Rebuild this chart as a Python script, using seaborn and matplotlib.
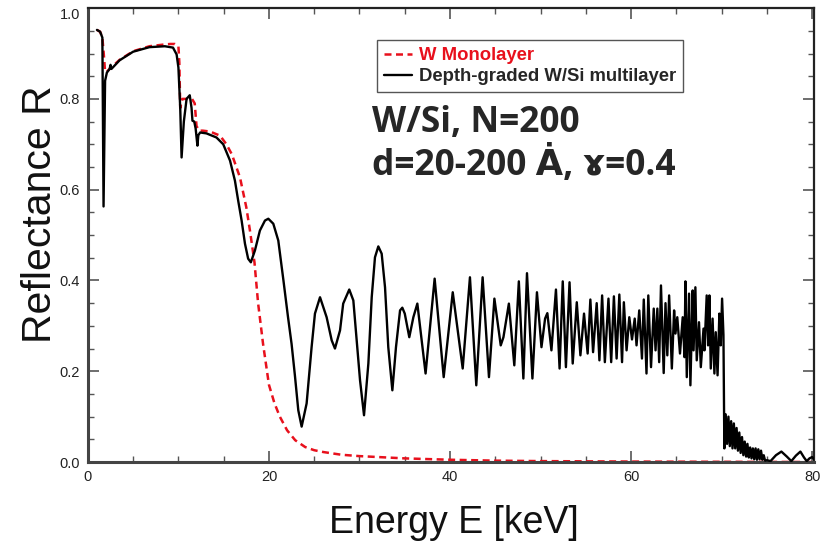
import matplotlib
matplotlib.use("Agg")
import pandas as pd
import matplotlib.pyplot as plt
import seaborn as sns
from matplotlib.ticker import MultipleLocator

# ===== ESTILO =====
sns.set_theme(style="ticks")
plt.rcParams['font.family'] = ['Liberation Sans', 'DejaVu Sans']

# ===== DADOS =====
# W monolayer (linha vermelha tracejada)
mono_E = [1.0, 1.35, 1.6, 1.75, 1.9, 2.1, 2.5, 3.5, 5.0, 6.8, 8.5, 9.1, 9.6, 10.0,
          10.1, 10.2, 10.45, 11.0, 11.5, 11.8, 12.0, 12.3, 12.7, 13.5, 14.6, 15.3,
          15.9, 16.8, 17.5, 17.9, 18.4, 18.8, 19.35, 20.0, 20.6, 21.2, 22.0, 22.9,
          24.0, 25.0, 26.0, 28.0, 30.0, 32.0, 35.0, 40.0, 45.0, 50.0, 60.0, 70.0, 80.0]
mono_R = [0.952, 0.948, 0.935, 0.90, 0.86, 0.86, 0.868, 0.886, 0.905, 0.916, 0.92,
          0.921, 0.921, 0.916, 0.88, 0.78, 0.80, 0.80, 0.80, 0.79, 0.74, 0.73, 0.73,
          0.728, 0.719, 0.70, 0.678, 0.627, 0.561, 0.51, 0.44, 0.35, 0.26, 0.17, 0.13,
          0.10, 0.07, 0.048, 0.033, 0.026, 0.022, 0.016, 0.013, 0.011, 0.008, 0.005,
          0.003, 0.002, 0.001, 0.0005, 0.0]

# Depth-graded W/Si multilayer (linha preta)
multi_E = [1.0, 1.35, 1.6, 1.73, 1.9, 2.1, 2.4, 2.5, 2.6, 3.5, 5.0, 6.8, 8.5, 9.4,
           9.8, 10.0, 10.2, 10.35, 10.6, 10.9, 11.25, 11.45, 11.55, 11.75, 11.9, 12.1,
           12.2, 12.4, 13.1, 14.2, 14.95, 15.7, 16.24, 16.6, 16.98, 17.35, 17.7, 18.0,
           18.45, 19.0, 19.56, 19.93, 20.48, 21.03, 21.6, 22.1, 22.5, 22.87, 23.24,
           23.61, 24.16, 24.71, 25.08, 25.64, 26.37, 26.93, 27.29, 27.85, 28.2, 28.87,
           29.32, 29.69, 30.06, 30.5, 30.98, 31.35, 31.71, 32.08, 32.45, 32.82, 33.18,
           33.63, 34.03, 34.48, 34.73, 35.0, 35.5, 35.95, 36.39,
           37.3, 38.3, 39.3, 40.3, 41.4, 42.2, 42.9, 43.6, 44.3, 44.9, 45.6, 45.9, 46.5,
           47.1, 47.6, 48.1, 48.5, 49.1, 49.6, 50.1, 50.5, 50.75, 51.2, 51.7, 52.1,
           52.45, 52.8, 53.2, 53.55, 54.0, 54.4, 54.8, 55.2, 55.5, 55.8, 56.2, 56.5,
           56.8, 57.1, 57.5, 57.8, 58.1, 58.4, 58.7, 59.0, 59.2, 59.5, 59.8, 60.1, 60.4,
           60.6, 60.9, 61.2, 61.4, 61.7, 61.9, 62.2, 62.5, 62.7, 62.9, 63.1, 63.3, 63.6,
           63.8, 64.0, 64.2, 64.5, 64.75, 64.9, 65.1, 65.4, 65.7, 65.9, 66.0, 66.15,
           66.4, 66.55, 66.8, 66.9, 67.1, 67.25, 67.5, 67.7, 68.0, 68.1, 68.35, 68.5,
           68.65, 68.8, 69.0, 69.2, 69.35, 69.55, 69.75, 69.9, 70.05, 70.2,
           70.3, 70.45, 70.6, 70.75, 70.9, 71.05, 71.2, 71.35, 71.5, 71.65, 71.8, 71.95,
           72.1, 72.25, 72.4, 72.55, 72.7, 72.85, 73.0, 73.15, 73.3, 73.45, 73.6, 73.75,
           73.9, 74.05, 74.2, 74.35, 74.5, 74.65, 74.8, 75.0, 75.4, 76.0, 76.6, 77.2,
           77.7, 78.2, 78.7, 79.1, 79.4, 79.7, 80.0, 80.2]
multi_R = [0.952, 0.948, 0.935, 0.563, 0.84, 0.858, 0.866, 0.875, 0.866, 0.885, 0.904,
           0.914, 0.916, 0.913, 0.898, 0.869, 0.78, 0.671, 0.75, 0.80, 0.808, 0.78,
           0.752, 0.75, 0.735, 0.697, 0.72, 0.726, 0.724, 0.715, 0.70, 0.664, 0.62,
           0.576, 0.532, 0.481, 0.448, 0.44, 0.466, 0.51, 0.532, 0.536, 0.525, 0.488,
           0.40, 0.32, 0.26, 0.19, 0.114, 0.078, 0.129, 0.253, 0.327, 0.363, 0.319,
           0.268, 0.25, 0.29, 0.349, 0.38, 0.356, 0.268, 0.18, 0.103, 0.217, 0.363,
           0.451, 0.475, 0.459, 0.385, 0.253, 0.158, 0.253, 0.334, 0.34, 0.327, 0.275,
           0.319, 0.349,
           0.195, 0.404, 0.187, 0.374, 0.206, 0.407, 0.169, 0.407, 0.187, 0.36, 0.257,
           0.275, 0.349, 0.213, 0.398, 0.184, 0.416, 0.184, 0.374, 0.253, 0.316, 0.328,
           0.246, 0.38, 0.206, 0.398, 0.209, 0.396, 0.217, 0.352, 0.235, 0.327, 0.239,
           0.358, 0.242, 0.35, 0.224, 0.367, 0.22, 0.36, 0.22, 0.365, 0.228, 0.369,
           0.22, 0.352, 0.246, 0.319, 0.27, 0.316, 0.257, 0.334, 0.228, 0.358, 0.195,
           0.367, 0.209, 0.338, 0.246, 0.338, 0.22, 0.389, 0.196, 0.35, 0.235, 0.367,
           0.206, 0.334, 0.283, 0.319, 0.239, 0.319, 0.231, 0.398, 0.187, 0.371, 0.169,
           0.378, 0.246, 0.385, 0.224, 0.308, 0.209, 0.294, 0.246, 0.367, 0.257, 0.367,
           0.206, 0.316, 0.195, 0.286, 0.191, 0.327, 0.257, 0.36, 0.28,
           0.03, 0.105, 0.04, 0.10, 0.035, 0.09, 0.03, 0.085, 0.03, 0.075, 0.025, 0.065,
           0.02, 0.055, 0.015, 0.045, 0.012, 0.04, 0.01, 0.032, 0.008, 0.03, 0.006,
           0.03, 0.005, 0.028, 0.006, 0.025, 0.005, 0.015, 0.003, 0.004, 0.002, 0.015,
           0.023, 0.012, 0.002, 0.014, 0.023, 0.01, 0.002, 0.008, 0.011, 0.006]

df_mono = pd.DataFrame({"E": mono_E, "R": mono_R})
df_multi = pd.DataFrame({"E": multi_E, "R": multi_R})

# ===== FIGURA =====
fig = plt.figure(figsize=(8.37, 5.41), dpi=100)
ax = fig.add_axes([0.105, 0.146, 0.8675, 0.839])

sns.lineplot(data=df_mono, x="E", y="R", ax=ax, color="#e8101c", lw=1.8,
             linestyle=(0, (2.8, 1.8)), estimator=None, sort=False,
             label="W Monolayer", zorder=2)
sns.lineplot(data=df_multi, x="E", y="R", ax=ax, color="black", lw=1.7,
             estimator=None, sort=False, label="Depth-graded W/Si multilayer",
             zorder=3)

ax.set_xlim(0, 80.2)
ax.set_ylim(0, 1.0)
ax.set_xticks([0, 20, 40, 60, 80])
ax.set_yticks([0.0, 0.2, 0.4, 0.6, 0.8, 1.0])
ax.set_yticklabels(["0.0", "0.2", "0.4", "0.6", "0.8", "1.0"])
ax.xaxis.set_minor_locator(MultipleLocator(5))
ax.yaxis.set_minor_locator(MultipleLocator(0.05))
ax.tick_params(which="both", direction="in", top=True, right=True,
               colors="#555555", labelcolor="#222222", labelsize=10.5, pad=5.5)
ax.tick_params(which="major", length=8, width=1.2)
ax.tick_params(which="minor", length=4, width=1.0)
ax.yaxis.get_major_ticks()[-1].label1.set_verticalalignment("top")

for side in ["top", "right"]:
    ax.spines[side].set_color("#222222")
    ax.spines[side].set_linewidth(1.6)
for side in ["left", "bottom"]:
    ax.spines[side].set_color("#444444")
    ax.spines[side].set_linewidth(2.2)

ax.set_xlabel("Energy E [keV]", fontsize=27, color="#111111")
ax.set_ylabel("Reflectance R", fontsize=29.5, color="#111111")
ax.xaxis.set_label_coords(0.504, -0.095)
ax.yaxis.set_label_coords(-0.04, 0.546)

leg = ax.legend(loc="upper left", bbox_to_anchor=(0.398, 0.9295),
                frameon=True, fancybox=False, edgecolor="#555555", framealpha=1,
                prop={"weight": "bold", "size": 13.3}, handlelength=1.5,
                handletextpad=0.4, labelspacing=0.22, borderpad=0.38,
                borderaxespad=0)
leg.get_frame().set_linewidth(1.0)
leg.get_texts()[0].set_color("#e8101c")

ax.text(0.391, 0.727, "W/Si, N=200", transform=ax.transAxes, fontsize=25.5,
        fontweight="bold", va="baseline", family=["Open Sans", "DejaVu Sans"])
ax.text(0.391, 0.632, "d=20-200 \u0226, \u0264=0.4", transform=ax.transAxes,
        fontsize=25.5, fontweight="bold", va="baseline",
        family=["Open Sans", "DejaVu Sans"])

fig.savefig("out.png", dpi=100)
plt.close(fig)
